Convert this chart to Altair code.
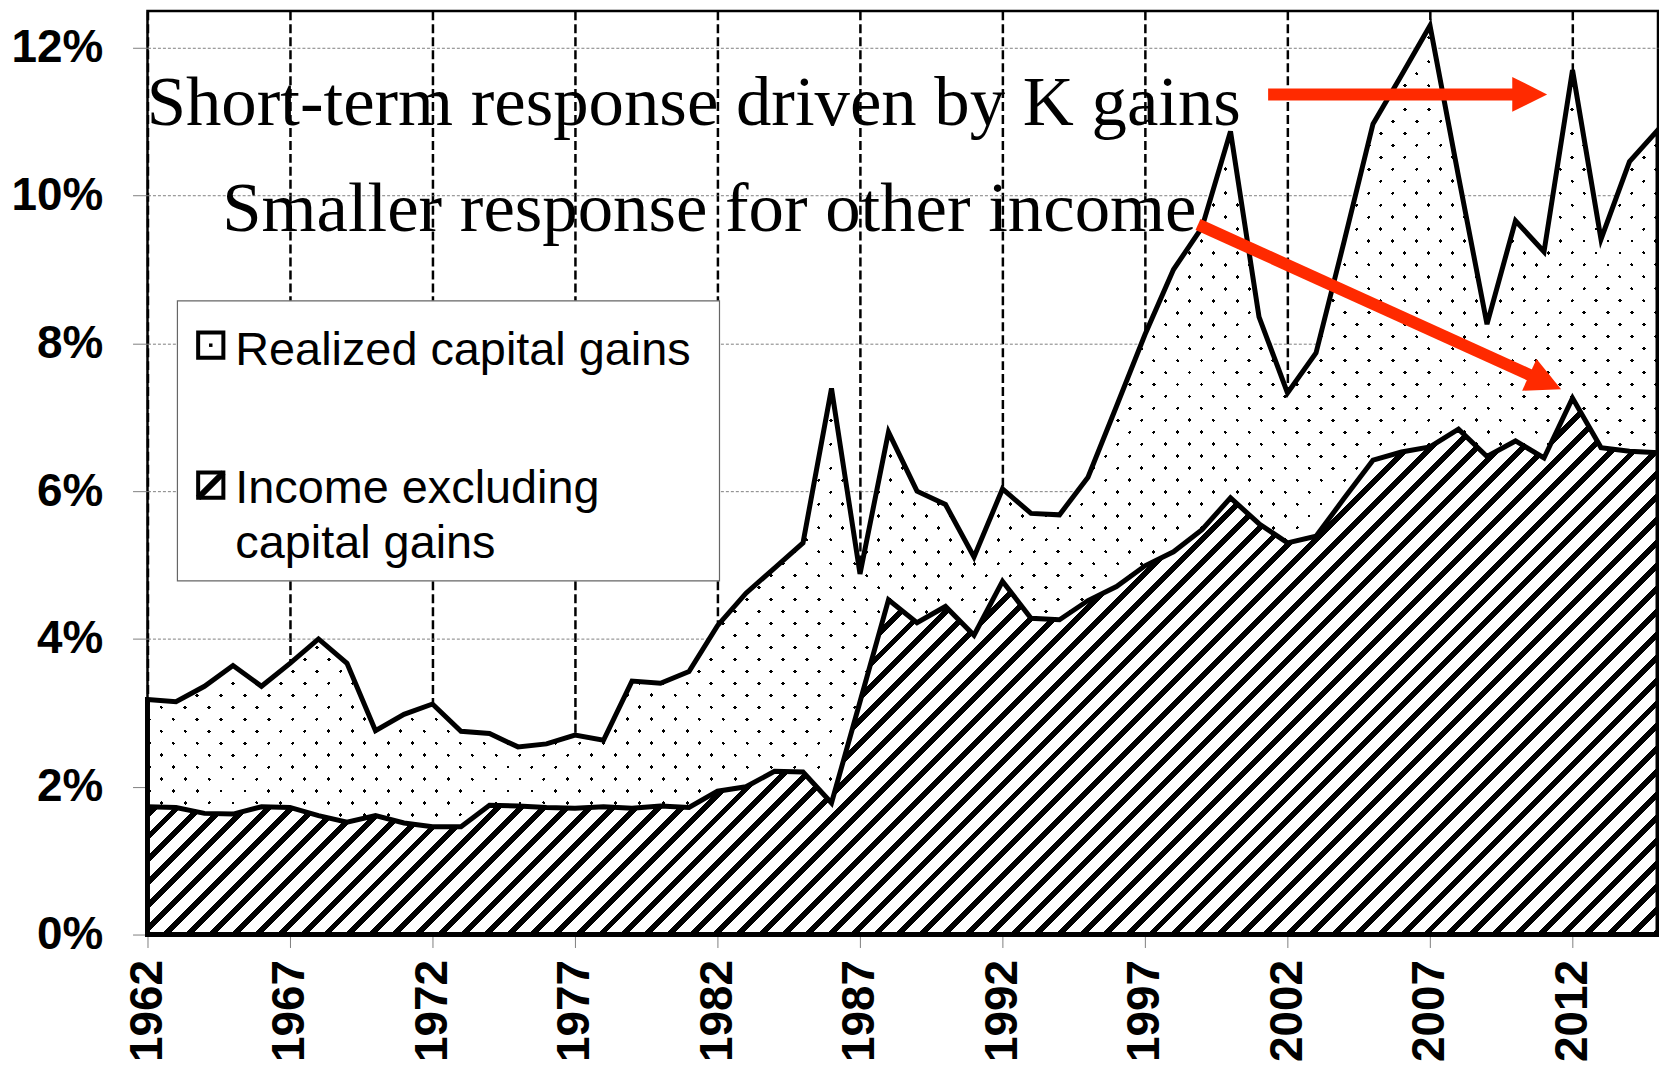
import altair as alt
import pandas as pd
import math

# ---------------- data ----------------
years = list(range(1962, 2016))
total_share = [3.18, 3.15, 3.36, 3.64, 3.36, 3.67, 4.00, 3.67, 2.76, 2.98,
               3.12, 2.75, 2.72, 2.54, 2.58, 2.70, 2.63, 3.43, 3.40, 3.56,
               4.18, 4.62, 4.96, 5.30, 7.39, 4.88, 6.80, 6.00, 5.82, 5.11,
               6.03, 5.70, 5.68, 6.19, 7.15, 8.12, 9.00, 9.57, 10.87, 8.36,
               7.33, 7.87, 9.40, 10.97, 11.63, 12.30, 10.26, 8.26, 9.66, 9.24,
               11.70, 9.41, 10.46, 10.89]
excl_cg = [1.73, 1.72, 1.64, 1.63, 1.73, 1.72, 1.61, 1.52, 1.61, 1.51,
           1.46, 1.46, 1.75, 1.74, 1.72, 1.71, 1.73, 1.71, 1.74, 1.72,
           1.94, 2.00, 2.21, 2.20, 1.78, 3.15, 4.53, 4.22, 4.44, 4.05,
           4.78, 4.28, 4.26, 4.52, 4.71, 4.99, 5.18, 5.48, 5.91, 5.56,
           5.30, 5.39, 5.91, 6.42, 6.53, 6.60, 6.84, 6.47, 6.68, 6.45,
           7.26, 6.59, 6.54, 6.52]
tick_years = list(range(1962, 2013, 5))
y_ticks = [0, 2, 4, 6, 8, 10, 12]
legend_labels = ["Realized capital gains", "Income excluding", "capital gains"]
annotations = ["Short-term response driven by K gains",
               "Smaller response for other income"]

df = pd.DataFrame({"year": years, "total": total_share, "excl": excl_cg})

# ---------------- layout ----------------
W, H = 1516, 927
XMIN, XMAX = 1962, 2015
YMAX = 12.5
PX_X = W / (XMAX - XMIN)
PX_Y = H / YMAX

xs = alt.Scale(domain=[XMIN, XMAX], nice=False, zero=False)
ys = alt.Scale(domain=[0, YMAX], nice=False, zero=True)


def stripes(wb, hb, period, band, c_band, c_gap, kind):
    s = wb + hb
    k = s / (wb ** 2 + hb ** 2)
    if kind == "slash":
        x1, y1, x2, y2 = 0, 0, k * wb, k * hb
    else:
        x1, y1, x2, y2 = 0, 1, k * wb, 1 - k * hb
    stops = []
    i = 0
    while i * period <= s:
        a = i * period / s
        b = min((i * period + band) / s, 1)
        c = min((i + 1) * period / s, 1)
        stops += [(a, c_band), (b, c_band), (b, c_gap), (c, c_gap)]
        i += 1
    return alt.LinearGradient(
        gradient="linear",
        stops=[alt.GradientStop(color=col, offset=round(off, 6)) for off, col in stops],
        x1=x1, y1=y1, x2=x2, y2=y2)


h_dot = max(total_share) * PX_Y
h_hatch = max(excl_cg) * PX_Y
dots_a = stripes(W, h_dot, 24, 3.8, "black", "white", "slash")
dots_b = stripes(W, h_dot, 24, 3.8, "rgba(255,255,255,0)", "white", "back")
hatch = stripes(W, h_hatch, 23, 8, "black", "white", "slash")

x_axis = alt.Axis(values=tick_years, format="d", labelAngle=270, labelAlign="right",
                  labelBaseline="middle", labelFont="Liberation Sans", labelFontWeight="bold",
                  labelFontSize=46, labelColor="black", labelPadding=12, tickSize=13,
                  tickColor="#808080", tickWidth=1, domain=False, grid=True,
                  gridColor="black", gridDash=[9, 4], gridWidth=2.5, title=None,
                  labelFlush=False, labelOverlap=False)
y_axis = alt.Axis(values=y_ticks, labelExpr="datum.value + '%'", labelFont="Liberation Sans",
                  labelFontWeight="bold", labelFontSize=46, labelColor="black",
                  labelPadding=30, tickSize=15, tickColor="#808080", tickWidth=1,
                  domain=False, grid=True, gridColor="#808080", gridDash=[3, 2],
                  gridWidth=1, title=None, labelFlush=False, labelOverlap=False)


def X(field):
    return alt.X(field, scale=xs, axis=x_axis, title=None)


def Y(field):
    return alt.Y(field, scale=ys, axis=y_axis, title=None)


base = alt.Chart(df)
area_a = base.mark_area(fill=dots_a, strokeWidth=0).encode(x=X("year:Q"), y=Y("total:Q"))
area_b = base.mark_area(fill=dots_b, stroke="black", strokeWidth=5, strokeJoin="miter").encode(
    x=X("year:Q"), y=Y("total:Q"))
area_h = base.mark_area(fill=hatch, stroke="black", strokeWidth=5, strokeJoin="miter").encode(
    x=X("year:Q"), y=Y("excl:Q"))

# ---------------- legend (drawn in data units) ----------------
leg_box = pd.DataFrame({"x": [1963.05], "x2": [1982.07], "y": [8.576], "y2": [4.787]})
box = alt.Chart(leg_box).mark_rect(fill="white", stroke="#666666", strokeWidth=1.2).encode(
    x=X("x:Q"), x2="x2:Q", y=Y("y:Q"), y2="y2:Q")

sym = pd.DataFrame({"x": [1964.22, 1964.22], "y": [7.976, 6.081]})
sym_sq = alt.Chart(sym).mark_point(shape="M -1 -1 H 1 V 1 H -1 Z", size=640, filled=True,
                                   fill="white", stroke="black", strokeWidth=4, opacity=1).encode(
    x=X("x:Q"), y=Y("y:Q"))
sym_dot = alt.Chart(sym.iloc[[0]]).mark_point(shape="square", size=12, filled=True,
                                              color="black", opacity=1).encode(
    x=X("x:Q"), y=Y("y:Q"))
sym_diag = alt.Chart(sym.iloc[[1]]).mark_point(shape="M -1 1 L 1 -1", size=640, filled=False,
                                               stroke="black", strokeWidth=6, opacity=1).encode(
    x=X("x:Q"), y=Y("y:Q"))

leg_txt = pd.DataFrame({"x": [1965.08, 1965.08, 1965.08], "y": [7.713, 5.839, 5.097],
                        "t": legend_labels})
leg_text = alt.Chart(leg_txt).mark_text(font="Liberation Sans", fontSize=47, align="left",
                                        baseline="alphabetic", color="black").encode(
    x=X("x:Q"), y=Y("y:Q"), text="t:N")

# ---------------- annotations ----------------
ann = pd.DataFrame({"x": [1961.97, 1964.62], "y": [10.95, 9.52], "t": annotations})
ann_text = alt.Chart(ann).mark_text(font="Liberation Serif", fontSize=71, align="left",
                                    baseline="alphabetic", color="black").encode(
    x=X("x:Q"), y=Y("y:Q"), text="t:N")

arrow_start_x = [2001.32, 1998.86]
arrow_start_y = [11.37, 9.61]
arrow_tip_x = [2011.11, 2011.60]
arrow_tip_y = [11.37, 7.38]
HEAD = 30  # px, shaft stops inside the head
rows = []
for sx, sy, tx, ty in zip(arrow_start_x, arrow_start_y, arrow_tip_x, arrow_tip_y):
    dx = (tx - sx) * PX_X
    dy = (sy - ty) * PX_Y
    L = math.hypot(dx, dy)
    ang = math.degrees(math.atan2(dy, dx))
    ex = tx - (dx / L) * HEAD / PX_X
    ey = ty + (dy / L) * HEAD / PX_Y
    rows.append({"sx": sx, "sy": sy, "ex": ex, "ey": ey, "tx": tx, "ty": ty, "ang": ang})
arr = pd.DataFrame(rows)
RED = "#ff2a00"
shaft = alt.Chart(arr).mark_rule(color=RED, strokeWidth=12, strokeCap="butt").encode(
    x=X("sx:Q"), x2="ex:Q", y=Y("sy:Q"), y2="ey:Q")
head = alt.Chart(arr).mark_point(shape="M 0 0 L -1 -0.5 L -1 0.5 Z", size=4900, filled=True,
                                 color=RED, opacity=1, strokeWidth=0).encode(
    x=X("tx:Q"), y=Y("ty:Q"), angle=alt.Angle("ang:Q", scale=None))

chart = alt.layer(area_a, area_b, area_h, box, sym_sq, sym_dot, sym_diag, leg_text,
                  ann_text, shaft, head).properties(
    width=W, height=H,
    autosize=alt.AutoSizeParams(type="none"),
    padding={"left": 140, "top": 1, "right": 1, "bottom": 126},
    background="white",
).configure_view(stroke="black", strokeWidth=2.5)

chart.save("out.html", embed_options={"renderer": "svg", "actions": False})
